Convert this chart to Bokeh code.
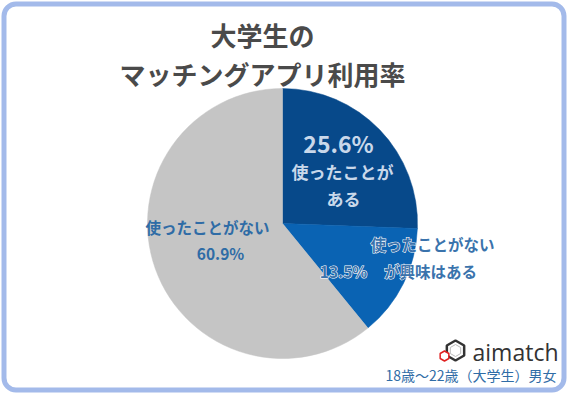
import math
from bokeh.plotting import figure
from bokeh.models import Range1d, ColumnDataSource
from bokeh.core.properties import value
from bokeh.embed import file_html
from bokeh.resources import INLINE

# ---- data ----
categories = ["使ったことがある", "使ったことがないが興味はある", "使ったことがない"]
shares = [25.6, 13.5, 60.9]
colors = ["#07498A", "#0A63B3", "#C5C5C5"]
title_lines = ["大学生の", "マッチングアプリ利用率"]
note = "18歳～22歳（大学生）男女"
brand = "aimatch"

W, H = 570, 393
JP = "Noto Sans CJK JP"

def X(x):
    return x

def Y(y):
    return H - y

p = figure(width=W, height=H, output_backend="svg", toolbar_location=None,
           x_range=Range1d(0, W), y_range=Range1d(0, H), min_border=0)
p.axis.visible = False
p.grid.visible = False
p.outline_line_color = None
p.background_fill_color = "white"
p.border_fill_color = "white"

# frame
p.quad(left=[3.5], right=[563.5], bottom=[Y(389.5)], top=[Y(3.5)],
       fill_color="white", line_color="#A3BAEA", line_width=5, border_radius=12)

# pie
cx, cy, r = X(282), Y(223), 135
total = sum(shares)
starts, ends = [], []
cum = 0.0
for s in shares:
    a0 = math.pi / 2 - 2 * math.pi * (cum + s) / total
    a1 = math.pi / 2 - 2 * math.pi * cum / total
    starts.append(a0)
    ends.append(a1)
    cum += s
src = ColumnDataSource(dict(x=[cx] * 3, y=[cy] * 3, start=starts, end=ends, color=colors))
p.wedge(x="x", y="y", radius=r, start_angle="start", end_angle="end", direction="anticlock",
        fill_color="color", line_color="color", line_width=0.5, source=src)

# title
p.text(x=[X(262), X(262)], y=[Y(34), Y(73)], text=title_lines,
       text_font=value(JP), text_font_style="bold", text_font_size="26px",
       text_color="#4A4A4A", text_align="center", text_baseline="middle")

# labels: dark slice
p.text(x=[X(338)], y=[Y(142)], text=[f"{shares[0]}%"], text_font=value(JP),
       text_font_style="bold", text_font_size="23px", text_color="#C9D8EA",
       text_align="center", text_baseline="middle")
p.text(x=[X(342), X(343)], y=[Y(171), Y(198)], text=["使ったことが", "ある"],
       text_font=value(JP), text_font_style="bold", text_font_size="17px",
       text_color="#C9D8EA", text_align="center", text_baseline="middle")

# labels: medium slice (halo underneath, fill on top)
mx, my = [X(432), X(343), X(430)], [Y(243), Y(270), Y(270)]
mt = ["使ったことがない", f"{shares[1]}%", "が興味はある"]
p.text(x=mx, y=my, text=mt, text_font=value(JP), text_font_style="bold",
       text_font_size="15.5px", text_color="white", text_outline_color="white",
       text_align="center", text_baseline="middle")
p.text(x=mx, y=my, text=mt, text_font=value(JP), text_font_style="bold",
       text_font_size="15.5px", text_color="#3A73AC",
       text_align="center", text_baseline="middle")

# labels: gray slice
p.text(x=[X(207), X(220)], y=[Y(226), Y(252)],
       text=["使ったことがない", f"{shares[2]}%"],
       text_font=value(JP), text_font_style="bold", text_font_size="15.5px",
       text_color="#2F6CA6", text_align="center", text_baseline="middle")

# logo
p.scatter(x=[X(455)], y=[Y(350)], marker="hex", size=20, angle=math.pi / 6,
          fill_color="white", line_color="#333333", line_width=2.5)
p.scatter(x=[X(455)], y=[Y(350)], marker="hex", size=12, angle=math.pi / 6,
          fill_color=None, line_color="#BBBBBB", line_width=1)
p.scatter(x=[X(444)], y=[Y(355.5)], marker="hex", size=10, angle=math.pi / 6,
          fill_color="white", line_color="#E02020", line_width=1.5)
p.text(x=[X(558)], y=[Y(351)], text=[brand], text_font=value("Open Sans"),
       text_font_size="23px", text_color="#333333", text_align="right",
       text_baseline="middle")
p.text(x=[X(556)], y=[Y(374)], text=[note], text_font=value(JP),
       text_font_size="14px", text_color="#2F6CA6",
       text_align="right", text_baseline="middle")

open("out.html", "w").write(file_html(p, INLINE))
